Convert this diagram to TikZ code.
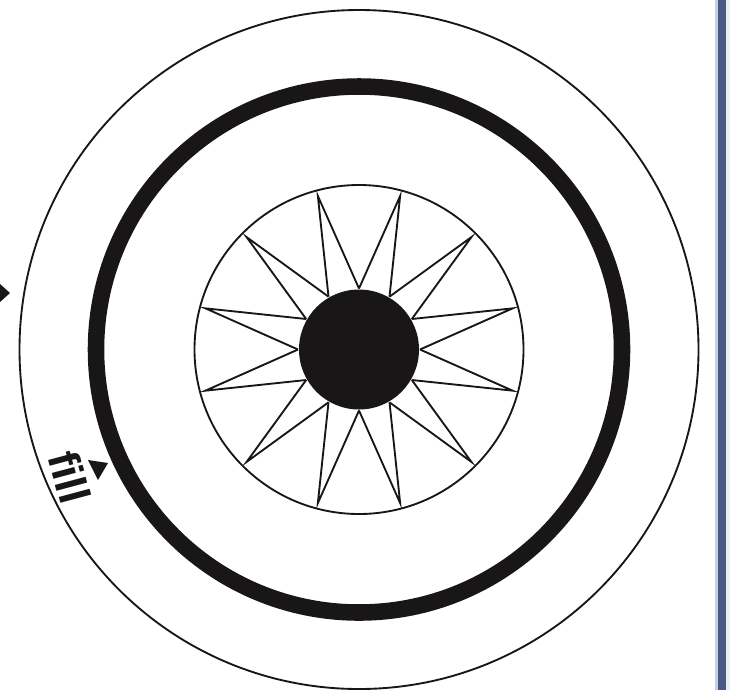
\documentclass[tikz,border=0pt]{standalone}
\usepackage{fontspec}
\setmainfont{Liberation Sans}
\usetikzlibrary{calc,positioning}
\definecolor{rulecol}{HTML}{4A5A85}
\definecolor{rulepale}{HTML}{E8F0F0}
\definecolor{ruleedge}{HTML}{C5CFE5}
\definecolor{inkcol}{HTML}{181617}
\tikzset{
  thinring/.style={
    draw = inkcol,
    line width = 1.4pt
  },
  thickring/.style={
    draw = inkcol,
    line width = 12.4pt
  },
  spoke/.style={
    draw = inkcol,
    line width = 1.4pt,
    line join = miter
  },
  ringtext/.style={
    font = \bfseries\fontsize{33}{33}\selectfont,
    text = inkcol,
    inner sep = 0pt
  }
}
\begin{document}
\begin{tikzpicture}[x=0.75pt,y=-0.75pt]
\useasboundingbox (0,0) rectangle (730,690);
\coordinate (centre) at (359,349.5);
% rings
\draw[thinring] (centre) circle (339.5);
\draw[thickring] (centre) circle (263);
\draw[thinring] (centre) circle (164.5);
% star
\foreach \a in {0,30,...,330}{
  \coordinate (tip) at ($(centre)+({\a+15}:{159} and {-159})$);
  \draw[spoke] ($(centre)+({\a}:{61} and {-61})$) -- (tip) -- ($(centre)+({\a+30}:{61} and {-61})$);
}
\fill[inkcol] (centre) circle (60);
% markers
\fill[inkcol] (0,284) -- (10,293) -- (0,302) -- cycle;
\fill[inkcol] (88,460) -- (108,463) -- (98,480) -- cycle;
\node[ringtext, rotate=-75] (ringlabel) at (70,477) {fill};
% side rule
\fill[ruleedge] (715,0) rectangle (718,690);
\fill[rulepale] (726,0) rectangle (730,690);
\fill[rulecol] (718,0) rectangle (726,690);
\end{tikzpicture}
\end{document}
